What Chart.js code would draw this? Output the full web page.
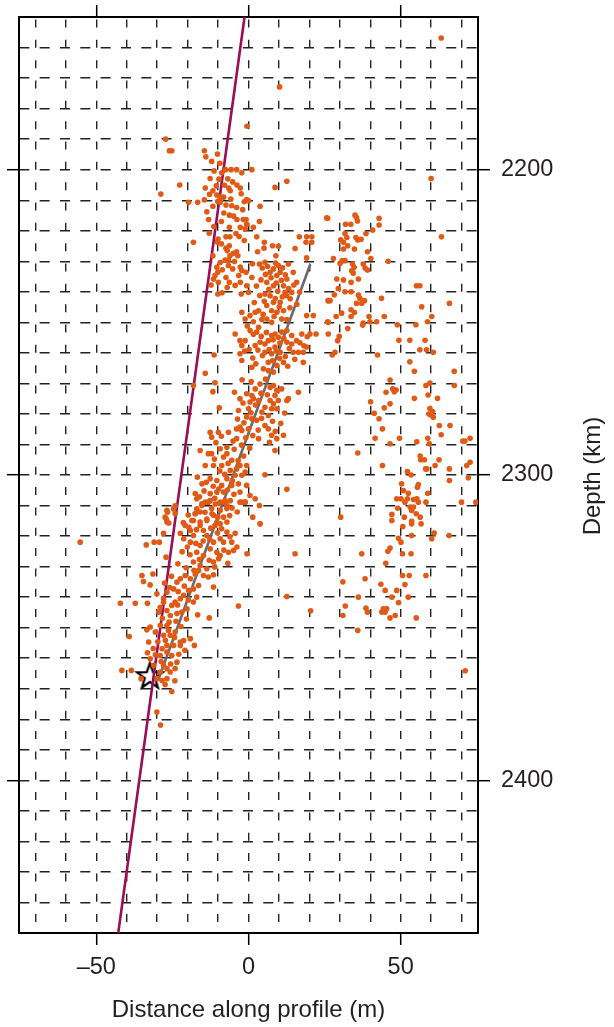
<!DOCTYPE html>
<html>
<head>
<meta charset="utf-8">
<title>Depth profile</title>
<script src="https://cdn.jsdelivr.net/npm/chart.js@4.4.1/dist/chart.umd.min.js"></script>
<style>
  html, body { margin: 0; padding: 0; background: #fff; }
  #wrap { width: 614px; height: 1027px; }
</style>
</head>
<body>
<div id="wrap"><canvas id="profileChart" width="614" height="1027"></canvas></div>
<script>
// events: [distance (m), depth]
let shallowEvents = [
  [63.3, 2156.9], [10.2, 2172.9], [-0.5, 2185.8], [60, 2202.9],
  [-27.2, 2190], [-26, 2193.8], [-25.2, 2193.8], [-14.5, 2193.8], [-14, 2195.8], [-10.2, 2194.9],
  [-8.8, 2201], [-7.5, 2200], [-5.7, 2200], [-3.9, 2200], [-2.2, 2201], [1.1, 2200],
  [-12.6, 2202.9], [-22.6, 2205], [-28.8, 2208],
  [-14.2, 2206], [-11.7, 2206.9], [-10.6, 2205.3], [-10.4, 2208.3], [-9.3, 2209],
  [-6.8, 2203], [-5.2, 2204], [-3.8, 2205], [-6.5, 2206], [-6, 2206.9], [-2.7, 2206], [-2.4, 2207.9],
  [-8.2, 2209], [12.6, 2203.8], [8.7, 2205.8],
  [-19.7, 2210.7], [-16.7, 2210.7], [-14.5, 2209.9], [-11.7, 2212], [-10.1, 2210.4], [-9.3, 2210.7], [-13.7, 2213.8],
  [-5.8, 2209.6], [-5.5, 2211.8], [-0.6, 2209.8], [-1.4, 2210.5], [0, 2210.2], [3.8, 2212],
  [-8.9, 2217], [-6.3, 2214.9], [-4.9, 2215.2], [-3.8, 2216.3], [-1.7, 2216.3], [-0.8, 2216.3], [-0.6, 2217.9],
  [-1.1, 2219.4], [-2.7, 2218.9], [1.6, 2218.9], [3.6, 2217], [-6.3, 2218.9], [25.7, 2215.8],
  [-12.9, 2220.8], [-10, 2222.7], [-10.2, 2223.8], [-18.1, 2223.8],
  [-7.4, 2222], [-6.1, 2222], [-4.1, 2220.9], [-6.3, 2224.9], [-7.4, 2225.7], [-7, 2226.5], [-6.1, 2228.2],
  [-5, 2227.4], [-3.9, 2226.9], [-3.5, 2228.2], [-7.7, 2229.6], [-6.6, 2229.6],
  [2.7, 2222], [5.2, 2223.8], [5.1, 2225.7], [3, 2226.9], [7.9, 2224.9], [9.8, 2225.1], [9, 2228.2], [15.3, 2225.8], [16.7, 2222],
  [19.1, 2222], [20.8, 2222], [18.9, 2223.8], [20.8, 2223.8], [19.1, 2228.9],
  [-11.7, 2228.2], [-9.3, 2230.4], [-10.4, 2232], [-10.1, 2233.6], [-11, 2234.7], [-11.5, 2235.8], [-12.3, 2237.8], [-9.9, 2236.9], [-10.1, 2240.7],
  [-6.6, 2231.4], [-5.2, 2232.5], [-2.7, 2231.9], [-3.2, 2234.7], [-2.2, 2233], [-0.8, 2233.6], [-2.7, 2236.9], [-2.4, 2240.7], [-0.6, 2238], [0, 2240.2],
  [-7.4, 2235.3], [-6.3, 2236.9], [-7, 2238.6],
  [3.6, 2230.9], [5.4, 2230.3], [7.1, 2233.6], [8.2, 2232.5], [9.3, 2234.7], [9.8, 2231.4], [10.4, 2233.6], [12.6, 2235.8],
  [13.1, 2230.9], [14.7, 2233.6], [14.2, 2240.2], [11.5, 2238], [12, 2240.2], [12.6, 2241.3], [13.7, 2242.3], [8.2, 2238],
  [6, 2236.9], [5.4, 2240.7], [7.1, 2241.3], [8.2, 2243.4], [10.4, 2243.4], [6, 2244.5], [7.6, 2246.2], [9.3, 2246.7], [11.5, 2246.2], [15.8, 2236.9],
  [-2.2, 2246.7], [0.5, 2247.8], [2.2, 2246.7], [3.3, 2246.2], [-1.1, 2248.9], [1.6, 2249.8], [4.4, 2249.1], [6, 2248.9],
  [7.6, 2250], [10.9, 2248.9], [12.6, 2249.1], [19.1, 2247.8], [21.3, 2247.8], [26.2, 2242.9], [26.2, 2250], [3.3, 2251.6],
  [-12.1, 2197.3], [-9.4, 2197.9], [-11.3, 2200.4], [-9.7, 2203.1], [-7.9, 2205.1], [-12.8, 2208.1], [-7.4, 2211.6],
  [-3.9, 2212.4], [-1.9, 2213.1], [-8.1, 2214.2], [-3.1, 2221.9], [-1.4, 2223.2], [-8.9, 2224.3], [-4.6, 2230.1],
  [-8.6, 2232.8], [-4.4, 2237.9], [-8.7, 2240.3], [1.3, 2230.8], [1.1, 2235.3], [-13.1, 2216.3], [-11.4, 2218.6],
  [4.5, 2232.2], [6.3, 2231.7], [8.9, 2230.6], [11.2, 2232.1], [12.1, 2234.4], [10.8, 2236.2], [9.1, 2237.1], [7.4, 2235.4],
  [5.6, 2234.3], [4.1, 2236.1], [6.7, 2239.2], [9.6, 2239.8], [11.1, 2241.6], [13.2, 2238.9], [14.9, 2237.8], [10.1, 2244.9],
  [8.8, 2242.2], [5.2, 2243.1], [3.7, 2241.2], [4.8, 2247.4], [8.4, 2248.1], [13.6, 2245.2], [15.9, 2244.1], [16.8, 2240.1],
  [2.6, 2238.1], [1.9, 2243.5]
];

let middleEvents = [
  [-4.4, 2253.8], [-2.8, 2256], [-1.1, 2256], [-2.2, 2257.6], [2.2, 2257.6], [3.8, 2256.5], [5.4, 2257.1], [6.5, 2256],
  [7.6, 2254.3], [8.7, 2253.8], [9.8, 2254.9], [10.9, 2253.2], [12.6, 2252.7], [14.2, 2254.3], [15.8, 2256], [17.5, 2253.8],
  [20.2, 2253.8], [22.2, 2253.8], [2.7, 2253.2], [0.5, 2252.7], [-2.8, 2260.3], [-2.2, 2262.5], [1.1, 2264.7], [6.5, 2263.1],
  [6.5, 2265.8], [7.6, 2260.3], [10.4, 2259.8], [12.6, 2256.5], [14.2, 2257.1], [14.7, 2259.8], [16.4, 2259.8], [18, 2259.8],
  [19.1, 2258.1], [11.5, 2263.1], [18, 2263.1], [9.3, 2264.1], [8.7, 2258.1], [5.4, 2259.8], [19.3, 2254.7], [18.2, 2257.7],
  [-0.4, 2251.2], [1.6, 2253.9], [4.2, 2254.6], [5.9, 2253.3], [8.1, 2255.7], [10.3, 2256.8], [11.6, 2255.2], [13.4, 2258.6],
  [12.1, 2261.2], [10.2, 2261.8], [9.1, 2259.4], [6.8, 2258.9], [4.6, 2260.9], [3.1, 2259.1], [1.4, 2261.7], [0.2, 2258.9],
  [-1.3, 2259.4], [2.4, 2263.6], [4.9, 2265.2], [8.2, 2266.3], [7.9, 2262.6], [12.9, 2264.4], [15.2, 2262.1], [16.9, 2256.7],
  [-11.3, 2260.7], [-14.2, 2266.7], [-11, 2269.8], [-11.7, 2272.7], [-18.1, 2270.7], [-9.6, 2278],
  [-4.6, 2272.9], [-2.8, 2275], [-0.6, 2273.4], [1.1, 2274], [1.6, 2275], [2.2, 2271.8], [0.5, 2276.1], [3.3, 2275.6],
  [0, 2278.3], [-3.3, 2278.9], [-0.6, 2281], [1.1, 2281.6], [-2.8, 2284.3], [-3.9, 2284.9], [-2.2, 2285.4], [-3.9, 2288.1],
  [0, 2284.9], [2.7, 2282.1], [4.4, 2279.4], [5.4, 2277.8], [6.5, 2280.5], [5.4, 2283.8], [6.5, 2284.9], [7.6, 2287],
  [3.3, 2288.1], [9.3, 2288.1], [11.5, 2287], [8.7, 2292], [7.6, 2278.3], [8.2, 2276.7], [8.7, 2274], [9.3, 2272.3],
  [8.2, 2270.7], [10.9, 2271.8], [12.6, 2275.6], [13.1, 2275], [16.4, 2272.9], [9.3, 2278.3], [7.1, 2275.6], [9.8, 2275.6],
  [-2.1, 2268.8], [0.9, 2269.4], [3.8, 2270.2], [5.6, 2268.6], [7.1, 2271.3], [6.2, 2273.7], [4.1, 2273.2], [2.3, 2277.1],
  [-1.8, 2276.4], [-3.6, 2281.7], [-1.5, 2282.9], [0.8, 2279.6], [3.2, 2285.3], [1.4, 2287.1], [-0.9, 2287.8], [-5.1, 2288.9],
  [-4.7, 2291.6], [-2.3, 2290.2], [0.4, 2291.2], [-1.6, 2293.8], [-3.4, 2295.3], [-6.7, 2296.2], [-9.4, 2298.7], [-7.8, 2299.8],
  [-5.3, 2301.9], [-8.9, 2287.3], [-10.7, 2289.4], [-11.2, 2294.8], [4.3, 2281.4], [7.9, 2282.4], [8.8, 2285.7], [10.6, 2283.1],
  [11.9, 2279.7], [6.9, 2289.3],
  [-9.9, 2286], [-12.1, 2287.6], [-12.6, 2286], [-6.6, 2286], [-15.9, 2292], [-13.2, 2293], [-12.1, 2293], [-9.3, 2291.4],
  [-7.1, 2290.9], [-7.1, 2293], [-8.2, 2294.1], [-5.5, 2295.2], [-14.2, 2296.9], [-11.5, 2296.9], [-8.8, 2296.9], [-6, 2298.5],
  [-3.9, 2298], [-2.8, 2296.9], [-0.6, 2296.9], [-4.4, 2300.1], [-2.2, 2300.1], [-1.1, 2299], [5.4, 2299.9], [-7.1, 2301.2],
  [-16.8, 2300.7], [-15.3, 2302.9], [-12.6, 2301.2], [-10.4, 2301.8], [-8.8, 2303.4], [-8.2, 2305.6], [-10.4, 2305.6], [-12.6, 2306.1],
  [-5.5, 2303.4], [-3.3, 2302.9], [-2.8, 2305.6], [-0.6, 2303.4], [0.5, 2306.7], [-1.1, 2308.9], [-2.8, 2308.9], [2.2, 2307.8],
  [12.6, 2304.7], [3.8, 2316]
];

let deepEvents = [
  [-17.5, 2306.1], [-17, 2307.8], [-15.3, 2309.4], [-13.2, 2308.9], [-12.1, 2311], [-15.9, 2312.1], [-17.5, 2312.7], [-18.1, 2314.9],
  [-15.9, 2315.4], [-13.7, 2314.9], [-11.5, 2313.2], [-9.3, 2311.6], [-8.2, 2313.8], [-7.1, 2315.4], [-9.3, 2316], [-11, 2316.5],
  [-7.1, 2311], [-7.7, 2308.9], [-24.1, 2310.1], [-26.8, 2311.6], [-27.4, 2313.8], [-26.8, 2315.4],
  [-13.9, 2302.4], [-11.6, 2303.7], [-9.8, 2304.6], [-6.9, 2304.9], [-4.8, 2306.3], [-14.6, 2305.2], [-16.1, 2307.1], [-11.1, 2307.6],
  [-9.6, 2309.3], [-5.4, 2310.8], [-3.7, 2312.1], [-6.2, 2313.3], [-10.1, 2313.8], [-14.3, 2312.2], [-19.8, 2313.1], [-21.4, 2315.6],
  [-19.6, 2317.1], [-17.1, 2317.9], [-14.8, 2318.2], [-12.4, 2317.4], [-10.2, 2318.9], [-6.1, 2320.2], [-4.4, 2319.1], [-12.7, 2321.1],
  [-14.9, 2321.6], [-17.3, 2322.4], [-20.1, 2323.6], [-21.8, 2325.1], [-19.2, 2326.1], [-16.1, 2327.6], [-12.9, 2327.9], [-11.1, 2330.1],
  [-13.2, 2333.4], [-17.9, 2331.2], [-20.5, 2330.4], [-23.2, 2329.1], [-8.1, 2324.6], [-6.8, 2328.9],
  [-55.3, 2322], [-33.6, 2322.9], [-31, 2322], [-29.3, 2322], [-27.9, 2319.1], [-27.1, 2326.9], [-26.6, 2312.2], [-27, 2314.4],
  [-26.2, 2315.7], [-24.6, 2311.1], [-24.1, 2312.7], [-22.4, 2319.1], [-21.3, 2320.9], [-20.8, 2316.5], [-19.1, 2318.2], [-18.6, 2314.9],
  [-17.5, 2312.7], [-17, 2311.1], [-15.3, 2310], [-14.2, 2308.9], [-12.6, 2308.4], [-10.9, 2309.5], [-9.3, 2308.9], [-7.7, 2308.4],
  [-7.1, 2310], [-6, 2308.4], [-2.2, 2308.9], [-1.1, 2308.9], [3.6, 2310], [1.4, 2313.8], [3.8, 2316],
  [-19.1, 2322], [-18.1, 2319.8], [-15.9, 2316.5], [-13.7, 2314.4], [-12, 2312.7], [-10.4, 2315.5], [-8.8, 2317.6], [-7.1, 2318.7],
  [-9.3, 2320.9], [-11.5, 2322], [-13.7, 2319.8], [-15.9, 2323.1], [-17, 2325.3], [-14.8, 2326.4], [-12.6, 2324.2], [-10.4, 2325.3],
  [-9.3, 2326.4], [-18.1, 2328.5], [-15.9, 2329.6], [-13.7, 2330.7], [-11.5, 2328.5], [-9.8, 2327.4], [-8.2, 2322], [-5.5, 2322],
  [-3.8, 2323.6], [-0.5, 2325.8], [-4.9, 2324.7], [-6.6, 2325.3],
  [-35, 2332.9], [-34.5, 2334.9], [-32.3, 2336], [-31.4, 2332.4], [-30.1, 2338.9], [-42.1, 2342], [-37.2, 2342], [-33.2, 2342],
  [-29, 2343.3], [-29.5, 2344.9], [-27.9, 2340.5], [-26.8, 2338.4], [-24.6, 2337.3], [-23.5, 2335.1], [-22.4, 2334], [-20.8, 2332.9],
  [-19.1, 2334], [-17.5, 2332.4], [-16.4, 2331.3], [-14.8, 2332.9], [-16.4, 2336.2], [-18.1, 2337.3], [-19.7, 2337.8], [-21.3, 2339.4],
  [-22.4, 2340.5], [-24.1, 2341.6], [-25.2, 2342.7], [-26.8, 2344.4], [-25.7, 2346], [-23.5, 2345.4], [-21.9, 2344.9], [-20.2, 2343.8],
  [-18.1, 2341.6], [-17, 2340], [-11.5, 2332.7], [-11.5, 2336.7], [-3.3, 2342.9], [-12.9, 2346.8], [-16.7, 2345.8], [12.6, 2339.8], [15.3, 2325.8],
  [-25.3, 2333.2], [-27.6, 2335.4], [-25.9, 2336.9], [-23.1, 2338.2], [-21.1, 2336.4], [-19.8, 2340.9], [-23.3, 2342.6], [-27.9, 2341.7],
  [-28.3, 2346.9], [-26.1, 2348.2], [-23.8, 2347.9], [-22.2, 2349.6], [-20.4, 2347.2], [-24.3, 2353.2], [-27.3, 2354.1], [-29.8, 2354.6],
  [-31.3, 2356.8], [-28.7, 2361.1], [-25.6, 2361.9], [-22.9, 2358.7], [-20.9, 2357.4], [-27.4, 2368.6], [-24.2, 2367.4],
  [-39.2, 2352.9], [-32.3, 2349.8], [-33.4, 2350.7], [-30.6, 2351.4], [-29, 2349.3], [-26.8, 2349.3], [-26.3, 2350.9], [-27.9, 2352.5],
  [-25.7, 2352.5], [-24.1, 2351.4], [-22.4, 2354.7], [-21.3, 2354.2], [-22.4, 2355.8], [-24.6, 2355.8], [-26.8, 2355.8], [-28.4, 2356.9],
  [-32.8, 2354.7], [-33.2, 2358.2], [-30.6, 2358.9], [-29, 2359.1], [-26.8, 2358], [-25.2, 2359.1], [-23.5, 2361.3], [-24.1, 2363.4],
  [-25.7, 2364.5], [-26.8, 2363.4], [-27.9, 2362.3], [-29, 2364.5], [-26.8, 2366.7], [-28.4, 2367.3], [-30.1, 2366.7], [-31.2, 2362.3],
  [-32.3, 2360.2], [-17.8, 2355.8], [-19.1, 2353.6], [-41.6, 2364], [-38.5, 2364], [-35.3, 2366.7], [-25.2, 2370.9], [-30.1, 2377.6],
  [-28.9, 2381.9], [20.4, 2344.5]
];

let eastEvents = [
  [26, 2215.9], [31.9, 2217.9], [33.6, 2217.9], [35, 2214.9], [35.5, 2215.7], [35.8, 2216.8], [42.9, 2215.9], [42.9, 2218.1],
  [40.8, 2219.8], [38.6, 2220.9], [37, 2222.8], [35.3, 2222.2], [35.9, 2223], [31.7, 2220.9], [32.3, 2222.2], [30.3, 2223],
  [31.2, 2223.8], [32.6, 2224.9], [31.2, 2226], [34.8, 2226], [39.1, 2226.9], [40.2, 2229.1], [45.9, 2230], [63.4, 2222], [27.9, 2229.1],
  [30.8, 2229.8], [30.1, 2230.7], [31.7, 2229.8], [34.2, 2230.9], [34.7, 2232], [33.9, 2233.1], [34.4, 2233.9], [37.7, 2230.9],
  [38.3, 2232.2], [39.1, 2232.9], [36.1, 2235.8], [33.7, 2236.9], [29, 2235.8], [31.2, 2236.1], [29.5, 2238.9], [31.7, 2240],
  [33.7, 2240], [36.1, 2241.1], [36.6, 2242.1], [35.5, 2243.8], [38.1, 2242.9], [37.2, 2243.8], [43.7, 2242.1], [28.2, 2241],
  [26.2, 2242.9], [26.8, 2242.9], [55.2, 2238], [56.3, 2238], [66, 2243.8], [56.9, 2244.9],
  [33.7, 2245.9], [34.8, 2246.8], [33.7, 2248.1], [30.6, 2247], [28.8, 2248.1], [39.6, 2248.1], [37.7, 2250.2], [37.5, 2250.9],
  [39.9, 2249.8], [42.1, 2249.8], [44.6, 2248.1], [48.9, 2250.8], [55, 2250.8], [58.8, 2249.8], [60.2, 2248.1], [26, 2249.8], [32.6, 2252],
  [26.2, 2253.8], [29.8, 2254.6], [29.3, 2256], [28.4, 2259.8], [27.5, 2260.7], [49.4, 2255.9], [53, 2255.9], [58, 2255.9],
  [56.3, 2259], [58.5, 2259], [60.7, 2259.8], [42.4, 2260.7], [53, 2262.9], [54.5, 2266], [67.6, 2266],
  [46.5, 2268.9], [45.2, 2272.9], [47.9, 2272.7], [48.5, 2272.2], [47.4, 2271.8], [58.3, 2270.7], [59.6, 2269.9], [59, 2273.8],
  [62.1, 2274.9], [54.5, 2274.9], [67.6, 2270.7], [40.1, 2276], [46.5, 2276.7], [44.6, 2278], [41.3, 2279.8], [42.9, 2281.6],
  [59.6, 2278.2], [60.5, 2279.2], [59.9, 2280.3], [60.7, 2281.1], [59.3, 2280],
  [44, 2284.9], [41.6, 2288], [49.6, 2288], [46.5, 2289.8], [55.3, 2289.1], [58.9, 2288], [59.4, 2289.8], [62.7, 2283.8],
  [63.3, 2286.8], [66.2, 2283.8], [70.4, 2288.9], [71.1, 2288.9], [72.8, 2288], [35.9, 2292.8], [44, 2296.9],
  [56.4, 2293.8], [56.6, 2295], [57.8, 2295], [58.2, 2298], [58.6, 2298], [61.3, 2296.9], [62.6, 2295],
  [66, 2298], [66, 2301.8], [71.7, 2296.9], [72.8, 2295.8], [72.2, 2300.9],
  [52.2, 2298.9], [53.4, 2300], [50.3, 2302.9], [55.8, 2303.1], [55.5, 2304], [50.9, 2305.1], [52.5, 2306], [58.9, 2306],
  [55.3, 2307.8], [54.2, 2308], [55.8, 2308.9], [52.2, 2307.8], [50.1, 2307.8], [48.7, 2307.8], [51.4, 2308.9], [49, 2310.9],
  [53.1, 2310.5], [54.2, 2310.5], [53.6, 2311.6], [55.1, 2312.7], [56.4, 2313.8], [58.3, 2308.9], [47.1, 2312.9], [47.1, 2314.9],
  [51.2, 2313.8], [53.6, 2315.2], [53.6, 2316], [56.7, 2316], [50.7, 2316.9], [53.6, 2319.8], [61, 2319], [60.2, 2320.9],
  [65.9, 2319.8], [70, 2308.9], [74.7, 2308.9], [30.3, 2313.8],
  [49.3, 2320.7], [50.1, 2322], [46.5, 2323.9], [45.8, 2325], [50.6, 2325.8], [53.4, 2325.8], [37.2, 2325.8], [45.1, 2328.9],
  [50.6, 2332.9], [52.8, 2332.9], [58.3, 2332.9], [51.4, 2335.9], [48.7, 2337.8], [44.9, 2337.8], [43.5, 2335.8], [47.1, 2340],
  [52.5, 2340], [49.3, 2341.8], [44.3, 2343.8], [45.4, 2343.8], [44.9, 2344.9], [43.8, 2344.9], [46.5, 2346.8], [48.2, 2346],
  [55.1, 2346.8], [38.6, 2343.6], [39.1, 2344.9], [31.8, 2342.9], [31, 2346], [36.1, 2340], [38.3, 2334], [31, 2335],
  [35.9, 2350.9], [71.2, 2364.1]
];

// straight lines and the main shock
let faultTrace = [[-1.3, 2150], [-42.8, 2450]];
let fitLine = [[20.3, 2231], [-29.7, 2367.2]];
let mainShock = [[-32.4, 2366]];

let xGrid = [-70, -60, -50, -40, -30, -20, -10, 0, 10, 20, 30, 40, 50, 60, 70];
let yGrid = [2160, 2170, 2180, 2190, 2200, 2210, 2220, 2230, 2240, 2250, 2260, 2270, 2280, 2290,
  2300, 2310, 2320, 2330, 2340, 2350, 2360, 2370, 2380, 2390, 2400, 2410, 2420, 2430, 2440];
let xLabels = [-50, 0, 50];
let yLabels = [2200, 2300, 2400];

const fontFamily = "'Liberation Sans', Arial, Helvetica, sans-serif";
const textColor = '#231f20';

function toPoints(list) {
  return list.map(p => ({ x: p[0], y: p[1] }));
}

function makeStar(r) {
  let size = Math.ceil(r * 2 + 6);
  let c = document.createElement('canvas');
  c.width = size;
  c.height = size;
  let g = c.getContext('2d');
  g.translate(size / 2, size / 2);
  g.beginPath();
  for (let i = 0; i < 10; i++) {
    let rad = i % 2 == 0 ? r : r * 0.4;
    let a = -Math.PI / 2 + i * Math.PI / 5;
    if (i == 0) g.moveTo(rad * Math.cos(a), rad * Math.sin(a));
    else g.lineTo(rad * Math.cos(a), rad * Math.sin(a));
  }
  g.closePath();
  g.lineWidth = 2.2;
  g.strokeStyle = '#000';
  g.stroke();
  return c;
}

function setTicks(values) {
  return function(scale) {
    scale.ticks = values.map(v => ({ value: v }));
  };
}

function majorTick(labels) {
  return function(ctx) {
    return ctx.tick && labels.includes(ctx.tick.value) ? '#000' : 'rgba(0,0,0,0)';
  };
}

// fix the box size of an axis and drop the label overhang padding
function boxSize(w, h) {
  return function(scale) {
    if (w != null) scale.width = w;
    if (h != null) scale.height = h;
    scale.paddingTop = 0;
    scale.paddingBottom = 0;
    scale.paddingLeft = 0;
    scale.paddingRight = 0;
  };
}

// right-hand axis title reads bottom to top
const depthTitle = {
  id: 'depthTitle',
  afterDraw(chart) {
    let ctx = chart.ctx;
    ctx.save();
    ctx.translate(593, 476);
    ctx.rotate(-Math.PI / 2);
    ctx.font = '24px ' + fontFamily;
    ctx.fillStyle = textColor;
    ctx.textAlign = 'center';
    ctx.textBaseline = 'middle';
    ctx.fillText('Depth (km)', 0, 0);
    ctx.restore();
  }
};

let allEvents = shallowEvents.concat(middleEvents, deepEvents, eastEvents);

let gridLine = { color: '#222', lineWidth: 1.4, drawTicks: true, tickLength: 12, tickWidth: 1.5 };

new Chart(document.getElementById('profileChart'), {
  type: 'scatter',
  data: {
    datasets: [
      {
        label: 'Events',
        data: toPoints(allEvents),
        backgroundColor: '#e05a16',
        borderWidth: 0,
        pointRadius: 2.8
      },
      {
        label: 'Fault trace',
        data: toPoints(faultTrace),
        showLine: true,
        borderColor: '#9b0d57',
        borderWidth: 2.6,
        pointRadius: 0
      },
      {
        label: 'Fit',
        data: toPoints(fitLine),
        showLine: true,
        borderColor: '#6a6a6a',
        borderWidth: 2.6,
        pointRadius: 0
      },
      {
        label: 'Main shock',
        data: toPoints(mainShock),
        pointStyle: makeStar(13.5),
        pointRadius: 13
      }
    ]
  },
  options: {
    responsive: false,
    devicePixelRatio: 1,
    animation: false,
    layout: { padding: 0 },
    plugins: {
      legend: { display: false },
      tooltip: { enabled: false }
    },
    scales: {
      x: {
        type: 'linear',
        position: 'bottom',
        min: -75.4,
        max: 75.4,
        afterBuildTicks: setTicks(xGrid),
        afterFit: boxSize(null, 94),
        grid: Object.assign({}, gridLine, { tickColor: majorTick(xLabels) }),
        border: { display: true, color: '#000', width: 2, dash: [8, 12.33], dashOffset: 17.8 },
        ticks: {
          autoSkip: false,
          maxRotation: 0,
          padding: 8,
          color: textColor,
          font: { size: 23.5, family: fontFamily },
          callback: function(v) {
            if (!xLabels.includes(v)) return '';
            return v < 0 ? '\u2013' + Math.abs(v) : String(v);
          }
        },
        title: {
          display: true,
          text: 'Distance along profile (m)',
          color: textColor,
          font: { size: 24, family: fontFamily },
          padding: { top: 0, bottom: 2 }
        }
      },
      xTop: {
        type: 'linear',
        position: 'top',
        min: -75.4,
        max: 75.4,
        afterBuildTicks: setTicks(xGrid),
        afterFit: boxSize(null, 17),
        grid: Object.assign({}, gridLine, { drawOnChartArea: false, tickColor: majorTick(xLabels) }),
        border: { display: true, color: '#000', width: 2 },
        ticks: { display: false, autoSkip: false }
      },
      y: {
        type: 'linear',
        position: 'right',
        reverse: true,
        min: 2150,
        max: 2450,
        afterBuildTicks: setTicks(yGrid),
        afterFit: boxSize(136, null),
        grid: Object.assign({}, gridLine, { tickColor: majorTick(yLabels) }),
        border: { display: true, color: '#000', width: 2, dash: [10, 10.33], dashOffset: 20 },
        ticks: {
          autoSkip: false,
          padding: 11,
          color: textColor,
          font: { size: 23.5, family: fontFamily },
          callback: function(v) { return yLabels.includes(v) ? String(v) : ''; }
        }
      },
      yLeft: {
        type: 'linear',
        position: 'left',
        reverse: true,
        min: 2150,
        max: 2450,
        afterBuildTicks: setTicks(yGrid),
        afterFit: boxSize(19, null),
        grid: Object.assign({}, gridLine, { drawOnChartArea: false, tickColor: majorTick(yLabels) }),
        border: { display: true, color: '#000', width: 2 },
        ticks: { display: false, autoSkip: false }
      }
    }
  },
  plugins: [depthTitle]
});
</script>
</body>
</html>
